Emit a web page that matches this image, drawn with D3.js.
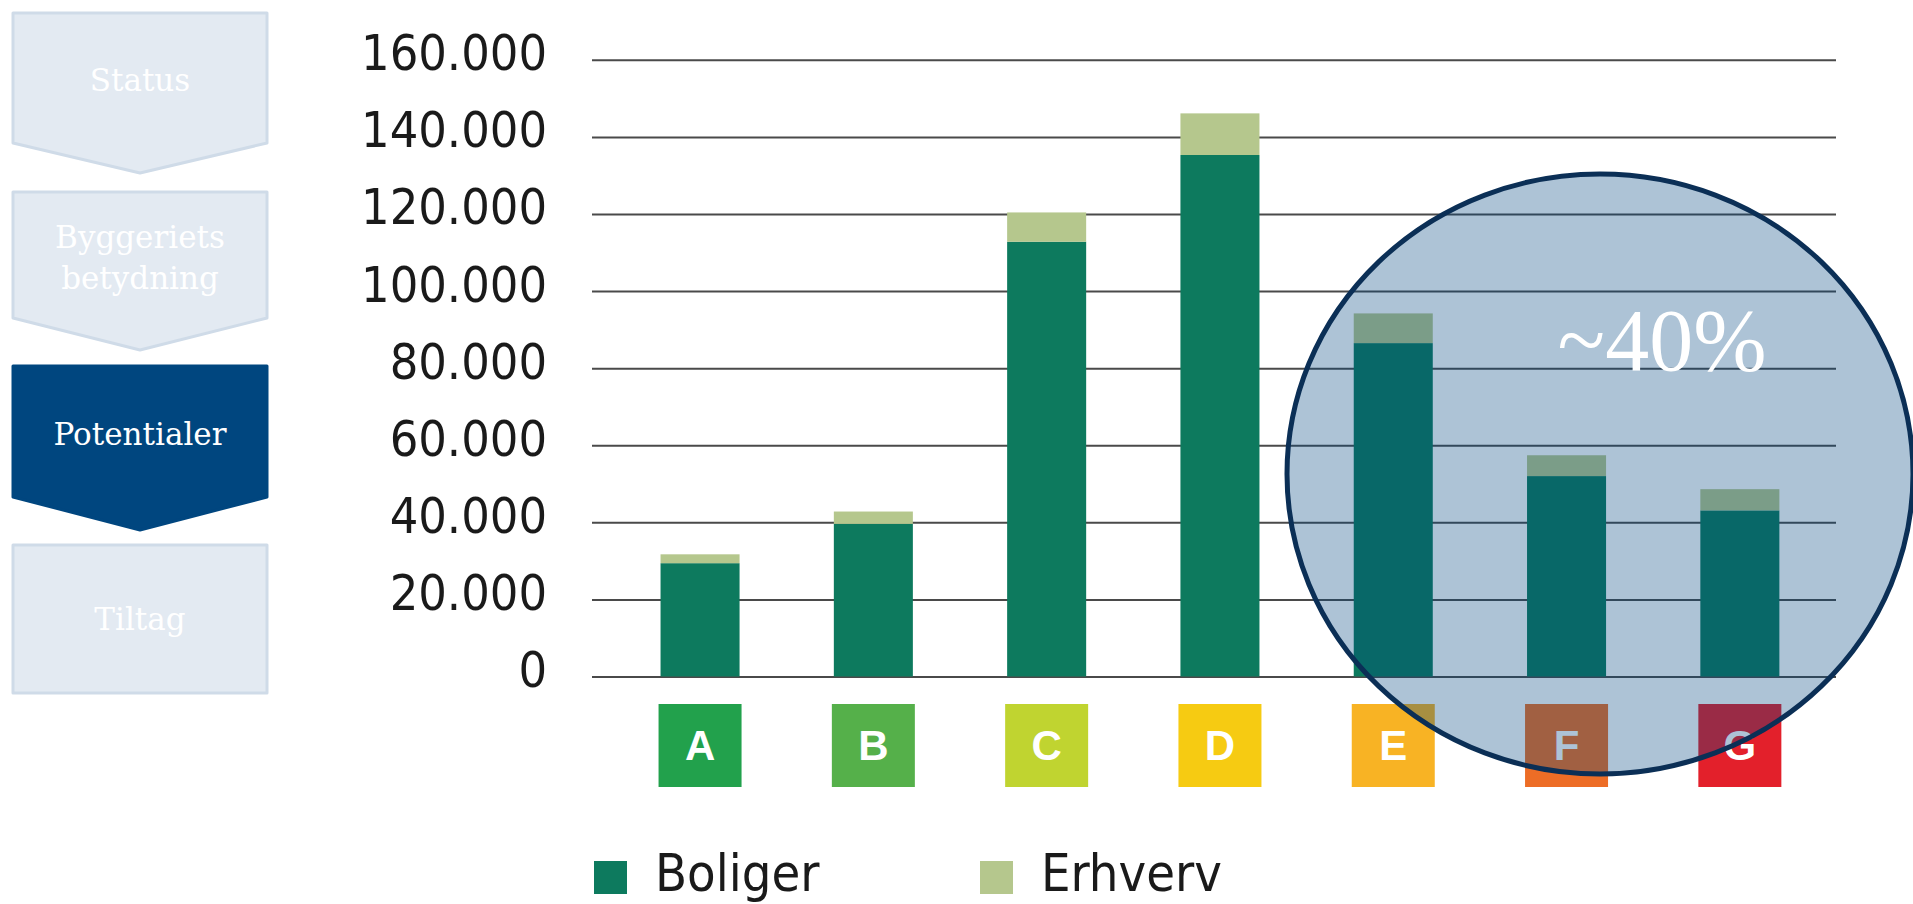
<!DOCTYPE html>
<html>
<head>
<meta charset="utf-8">
<script src="https://cdn.jsdelivr.net/npm/d3@7"></script>
<style>
  html, body { margin: 0; padding: 0; background: #ffffff; }
  svg { display: block; }
  .cond { font-family: 'DejaVu Sans Condensed', 'DejaVu Sans', sans-serif; font-stretch: condensed; }
</style>
</head>
<body>
<svg id="chart" width="1913" height="904"></svg>
<script>
// Energy label classes and building floor area per class
const categories = ["A", "B", "C", "D", "E", "F", "G"];
const boliger = [29400, 39600, 112800, 135300, 86500, 52000, 43100];
const erhverv = [2300, 3200, 7600, 10800, 7700, 5400, 5500];
const labelColors = ["#22a14c", "#55b04a", "#c0d430", "#f6cb12", "#f8b324", "#ed6d26", "#e3202b"];
const yTicks = [0, 20000, 40000, 60000, 80000, 100000, 120000, 140000, 160000];
const seriesNames = ["Boliger", "Erhverv"];
const seriesColors = ["#0d7a5e", "#b5c78d"];
const navItems = [
  { lines: ["Status"], active: false, arrow: true },
  { lines: ["Byggeriets", "betydning"], active: false, arrow: true },
  { lines: ["Potentialer"], active: true, arrow: true },
  { lines: ["Tiltag"], active: false, arrow: false }
];
const highlightText = "~40%";

const svg = d3.select("#chart");
const fmt = d3.formatLocale({ decimal: ",", thousands: ".", grouping: [3], currency: ["", " kr."] }).format(",d");

const gridLeft = 592, gridRight = 1836;
const y = d3.scaleLinear().domain([0, 160000]).range([676.5, 59.8]);
const x = d3.scaleBand().domain(categories)
  .range([613.4, 1826.5]).paddingInner(0.544).paddingOuter(0.272);

// horizontal grid lines
const grid = svg.append("g").attr("transform", `translate(${gridLeft},0)`)
  .call(d3.axisRight(y).tickValues(yTicks).tickSize(gridRight - gridLeft).tickFormat(""));
grid.select(".domain").remove();
grid.selectAll("line").attr("stroke", "#4a4a4a").attr("stroke-width", 2);

// y-axis labels
const yAxis = svg.append("g").attr("class", "cond").attr("transform", "translate(547,0)")
  .call(d3.axisLeft(y).tickValues(yTicks).tickSize(0).tickPadding(0).tickFormat(fmt));
yAxis.select(".domain").remove();
yAxis.selectAll("text")
  .attr("font-family", "'DejaVu Sans Condensed', 'DejaVu Sans', sans-serif")
  .attr("font-size", 50).attr("fill", "#1a1a1a").attr("y", -6);

// stacked bars
const rows = categories.map((c, i) => ({ cat: c, Boliger: boliger[i], Erhverv: erhverv[i] }));
const stacked = d3.stack().keys(seriesNames)(rows);
svg.append("g").selectAll("g").data(stacked).join("g")
  .attr("fill", (d, i) => seriesColors[i])
  .selectAll("rect").data(d => d).join("rect")
  .attr("x", d => x(d.data.cat))
  .attr("width", x.bandwidth())
  .attr("y", d => y(d[1]))
  .attr("height", d => y(d[0]) - y(d[1]));

// energy label boxes under the bars
const boxW = 83;
const boxes = svg.append("g").selectAll("g").data(categories).join("g")
  .attr("transform", d => `translate(${x(d) + x.bandwidth() / 2},0)`);
boxes.append("rect")
  .attr("x", -boxW / 2).attr("y", 704).attr("width", boxW).attr("height", 83)
  .attr("fill", (d, i) => labelColors[i]);
boxes.append("text")
  .attr("y", 760).attr("text-anchor", "middle")
  .attr("font-family", "'Liberation Sans Narrow', 'Liberation Sans', Arial, sans-serif")
  .attr("font-weight", "bold").attr("font-size", 42).attr("fill", "#ffffff")
  .text(d => d);

// highlight over the E–G classes
svg.append("ellipse")
  .attr("cx", 1600).attr("cy", 474).attr("rx", 313).attr("ry", 300)
  .attr("fill", "#00457f").attr("fill-opacity", 0.32)
  .attr("stroke", "#0b2f56").attr("stroke-width", 5);
svg.append("text")
  .attr("x", 1662).attr("y", 370).attr("text-anchor", "middle")
  .attr("font-family", "'Liberation Serif', 'Times New Roman', serif")
  .attr("font-size", 88).attr("fill", "#ffffff")
  .text(highlightText);

// legend
const legend = svg.append("g").attr("class", "cond");
const legendX = [594, 980];
seriesNames.forEach((name, i) => {
  legend.append("rect").attr("x", legendX[i]).attr("y", 861).attr("width", 33).attr("height", 33)
    .attr("fill", seriesColors[i]);
  legend.append("text").attr("x", legendX[i] + 61).attr("y", 891)
    .attr("font-family", "'DejaVu Sans Condensed', 'DejaVu Sans', sans-serif")
    .attr("font-size", 52).attr("fill", "#1a1a1a").text(name);
});

// section navigation on the left
const navGeom = [
  { top: 13, side: 143, tip: 173 },
  { top: 192, side: 318, tip: 350 },
  { top: 366, side: 497, tip: 530 },
  { top: 545, side: 693, tip: 693 }
];
const navL = 13, navR = 267, navC = (navL + navR) / 2;
const nav = svg.append("g");
navItems.forEach((item, i) => {
  const g = navGeom[i];
  const p = d3.path();
  p.moveTo(navL, g.top); p.lineTo(navR, g.top); p.lineTo(navR, g.side);
  if (item.arrow) p.lineTo(navC, g.tip);
  p.lineTo(navL, g.side); p.closePath();
  nav.append("path").attr("d", p.toString())
    .attr("fill", item.active ? "#00467f" : "#e3eaf2")
    .attr("stroke", item.active ? "#00467f" : "#cfdbe8")
    .attr("stroke-width", 3).attr("stroke-linejoin", "round");
  const lineH = 41;
  const mid = item.arrow ? (g.top + g.side) / 2 + 2 : (g.top + g.side) / 2;
  const n = item.lines.length;
  item.lines.forEach((t, k) => {
    nav.append("text")
      .attr("x", navC).attr("y", mid + (k - (n - 1) / 2) * lineH + 11)
      .attr("text-anchor", "middle")
      .attr("font-family", "'DejaVu Serif', serif").attr("font-size", 31)
      .attr("fill", "#ffffff").text(t);
  });
});
</script>
</body>
</html>
